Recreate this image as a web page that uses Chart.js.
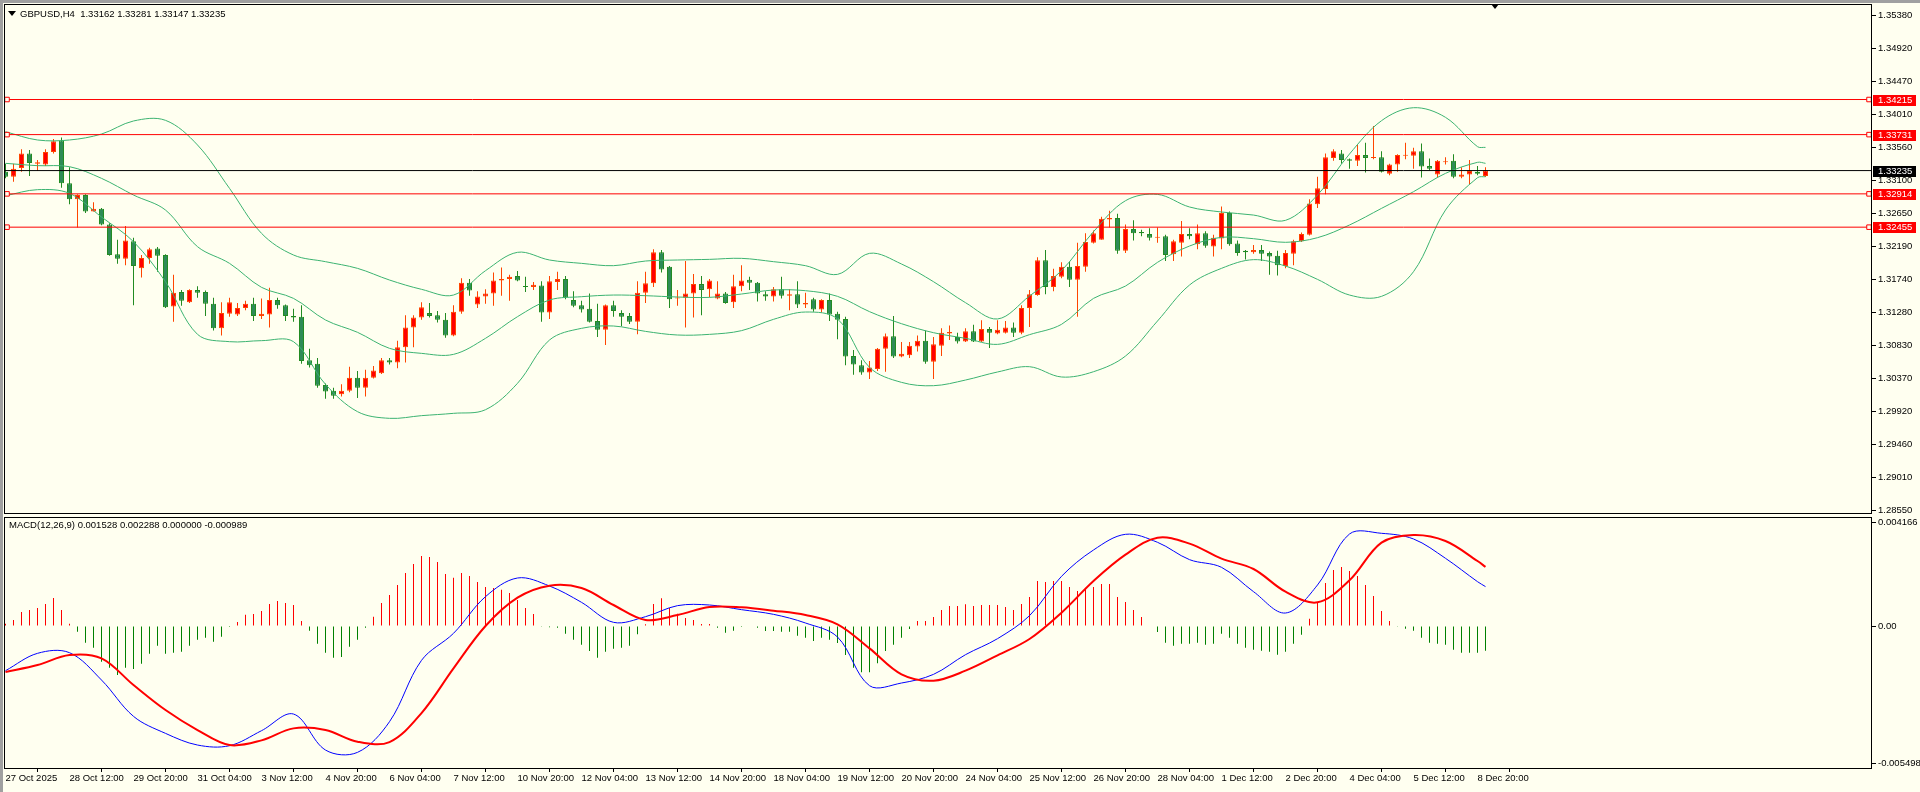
<!DOCTYPE html>
<html>
<head>
<meta charset="utf-8">
<title>GBPUSD,H4</title>
<script src="https://cdn.jsdelivr.net/npm/chart.js@4.4.1/dist/chart.umd.min.js"></script>
<style>
html, body { margin: 0; padding: 0; background: #fffff0; }
body { width: 1920px; height: 792px; position: relative; overflow: hidden; font-family: "Liberation Sans", Arial, sans-serif; }
#pricebox { position: absolute; left: 0; top: 0; width: 1920px; height: 516px; }
#macdbox { position: absolute; left: 0; top: 515px; width: 1920px; height: 277px; }
.caption { position: absolute; font-size: 9.5px; line-height: 11px; color: #000; white-space: pre; }
.tri { position: absolute; width: 0; height: 0; border-left: 4px solid transparent; border-right: 4px solid transparent; border-top: 5px solid #000; }
#edge { position: absolute; left: 0; top: 0; width: 1920px; height: 792px; box-sizing: border-box; border-left: 3px solid #a0a0a0; border-top: 3px solid #a0a0a0; pointer-events: none; }
</style>
</head>
<body>
<div id="pricebox"><canvas id="price"></canvas></div>
<div id="macdbox"><canvas id="macd"></canvas></div>
<div class="tri" style="left:8px; top:11px;"></div>
<div class="caption" style="left:20px; top:8px;">GBPUSD,H4  1.33162 1.33281 1.33147 1.33235</div>
<div class="tri" style="left:1491px; top:4px;"></div>
<div class="caption" style="left:9px; top:519px;">MACD(12,26,9) 0.001528 0.002288 0.000000 -0.000989</div>
<div id="edge"></div>
<script>
// Candles, H4 bars 27 Oct 04:00 .. 9 Dec 00:00
const opens = [
  1.3322,1.3315,1.3327,1.3347,1.3333,1.3332,1.3349,1.3365,1.3306,1.3284,
  1.3290,1.3267,1.3271,1.3249,1.3208,1.3202,1.3226,1.3189,1.3203,1.3216,
  1.3207,1.3136,1.3156,1.3142,1.3159,1.3156,1.3140,1.3106,1.3126,1.3125,
  1.3134,1.3140,1.3123,1.3125,1.3145,1.3138,1.3123,1.3122,1.3062,1.3057,
  1.3028,1.3020,1.3015,1.3020,1.3038,1.3024,1.3038,1.3044,1.3062,1.3059,
  1.3080,1.3107,1.3121,1.3127,1.3124,1.3118,1.3096,1.3129,1.3169,1.3139,
  1.3150,1.3154,1.3172,1.3174,1.3178,1.3164,1.3163,1.3165,1.3128,1.3170,
  1.3174,1.3145,1.3138,1.3133,1.3116,1.3104,1.3138,1.3127,1.3123,1.3115,
  1.3155,1.3168,1.3211,1.3191,1.3147,1.3148,1.3154,1.3167,1.3160,1.3147,
  1.3154,1.3142,1.3164,1.3173,1.3169,1.3153,1.3150,1.3160,1.3151,1.3153,
  1.3139,1.3146,1.3132,1.3145,1.3126,1.3119,1.3068,1.3055,1.3045,1.3050,
  1.3078,1.3095,1.3067,1.3069,1.3081,1.3089,1.3060,1.3082,1.3099,1.3094,
  1.3088,1.3102,1.3088,1.3105,1.3099,1.3100,1.3107,1.3100,1.3134,1.3152,
  1.3200,1.3163,1.3177,1.3191,1.3173,1.3191,1.3224,1.3228,1.3256,1.3258,
  1.3213,1.3243,1.3239,1.3236,1.3231,1.3233,1.3208,1.3224,1.3236,1.3222,
  1.3237,1.3219,1.3230,1.3265,1.3223,1.3213,1.3211,1.3214,1.3210,1.3206,
  1.3192,1.3209,1.3226,1.3235,1.3277,1.3298,1.3341,1.3347,1.3339,1.3337,
  1.3345,1.3341,1.3342,1.3319,1.3332,1.3344,1.3344,1.3350,1.3330,1.3318,
  1.3335,1.3337,1.3315,1.3318,1.3322,1.33162
];
const highs = [
  1.3333,1.3333,1.3353,1.3352,1.3338,1.3353,1.3367,1.3369,1.3328,1.3291,
  1.3291,1.3280,1.3272,1.3251,1.3228,1.3247,1.3231,1.3207,1.3217,1.3218,
  1.3208,1.3180,1.3159,1.3160,1.3164,1.3158,1.3148,1.3142,1.3148,1.3141,
  1.3144,1.3148,1.3147,1.3162,1.3148,1.3139,1.3133,1.3138,1.3078,1.3065,
  1.3030,1.3024,1.3029,1.3053,1.3047,1.3049,1.3054,1.3065,1.3065,1.3089,
  1.3124,1.3124,1.3142,1.3141,1.3130,1.3127,1.3138,1.3175,1.3174,1.3157,
  1.3160,1.3183,1.3190,1.3180,1.3185,1.3177,1.3170,1.3171,1.3178,1.3184,
  1.3178,1.3157,1.3144,1.3154,1.3140,1.3139,1.3144,1.3131,1.3127,1.3171,
  1.3184,1.3215,1.3214,1.3192,1.3159,1.3199,1.3181,1.3178,1.3174,1.3171,
  1.3156,1.3180,1.3193,1.3177,1.3170,1.3157,1.3163,1.3177,1.3160,1.3171,
  1.3155,1.3148,1.3146,1.3154,1.3129,1.3122,1.3076,1.3062,1.3061,1.3079,
  1.3099,1.3123,1.3087,1.3087,1.3096,1.3103,1.3094,1.3106,1.3110,1.3100,
  1.3106,1.3111,1.3117,1.3108,1.3117,1.3116,1.3114,1.3138,1.3159,1.3204,
  1.3214,1.3188,1.3197,1.3198,1.3224,1.3237,1.3241,1.3260,1.3268,1.3264,
  1.3249,1.3255,1.3242,1.3244,1.3245,1.3235,1.3228,1.3254,1.3244,1.3249,
  1.3240,1.3235,1.3274,1.3267,1.3227,1.3214,1.3221,1.3221,1.3212,1.3213,
  1.3214,1.3228,1.3238,1.3284,1.3315,1.3347,1.3353,1.3352,1.3340,1.3359,
  1.3362,1.3385,1.3350,1.3333,1.3346,1.3362,1.3355,1.3361,1.3340,1.3338,
  1.3342,1.3346,1.3328,1.3338,1.3330,1.33281
];
const lows = [
  1.3313,1.3308,1.3322,1.3316,1.3323,1.3330,1.3347,1.3300,1.3277,1.3245,
  1.3265,1.3267,1.3248,1.3206,1.3195,1.3193,1.3138,1.3176,1.3195,1.3184,
  1.3134,1.3115,1.3137,1.3141,1.3148,1.3123,1.3103,1.3096,1.3122,1.3123,
  1.3131,1.3116,1.3119,1.3107,1.3133,1.3116,1.3115,1.3057,1.3052,1.3024,
  1.3009,1.3009,1.3012,1.3018,1.3010,1.3012,1.3037,1.3043,1.3056,1.3051,
  1.3059,1.3080,1.3118,1.3121,1.3114,1.3093,1.3095,1.3126,1.3151,1.3134,
  1.3140,1.3137,1.3151,1.3144,1.3171,1.3156,1.3159,1.3115,1.3119,1.3159,
  1.3146,1.3135,1.3128,1.3114,1.3094,1.3083,1.3122,1.3109,1.3112,1.3098,
  1.3141,1.3163,1.3183,1.3134,1.3137,1.3107,1.3121,1.3124,1.3149,1.3146,
  1.3140,1.3134,1.3157,1.3159,1.3143,1.3144,1.3143,1.3147,1.3131,1.3134,
  1.3134,1.3129,1.3128,1.3116,1.3091,1.3055,1.3042,1.3042,1.3036,1.3047,
  1.3046,1.3065,1.3066,1.3065,1.3074,1.3057,1.3036,1.3068,1.3090,1.3085,
  1.3087,1.3087,1.3087,1.3079,1.3098,1.3099,1.3094,1.3098,1.3108,1.3151,
  1.3153,1.3157,1.3175,1.3163,1.3122,1.3184,1.3223,1.3228,1.3245,1.3209,
  1.3210,1.3227,1.3233,1.3227,1.3224,1.3199,1.3199,1.3205,1.3229,1.3215,
  1.3217,1.3205,1.3215,1.3220,1.3206,1.3201,1.3209,1.3199,1.3180,1.3179,
  1.3189,1.3193,1.3225,1.3234,1.3272,1.3291,1.3337,1.3333,1.3326,1.3330,
  1.3321,1.3339,1.3321,1.3317,1.3322,1.3339,1.3326,1.3314,1.3324,1.3314,
  1.3332,1.3313,1.3313,1.3305,1.3317,1.33147
];
const closes = [
  1.3315,1.3326,1.3347,1.3334,1.3335,1.3349,1.3364,1.3306,1.3284,1.3290,
  1.3267,1.3271,1.3249,1.3207,1.3202,1.3227,1.3192,1.3203,1.3215,1.3206,
  1.3135,1.3155,1.3144,1.3159,1.3155,1.3140,1.3106,1.3127,1.3142,1.3134,
  1.3140,1.3123,1.3126,1.3145,1.3138,1.3123,1.3121,1.3061,1.3055,1.3027,
  1.3019,1.3013,1.3020,1.3038,1.3024,1.3038,1.3048,1.3062,1.3059,1.3080,
  1.3107,1.3121,1.3135,1.3123,1.3118,1.3096,1.3129,1.3169,1.3158,1.3150,
  1.3154,1.3172,1.3174,1.3177,1.3172,1.3163,1.3166,1.3128,1.3171,1.3174,
  1.3149,1.3137,1.3132,1.3115,1.3104,1.3138,1.3130,1.3122,1.3115,1.3155,
  1.3168,1.3211,1.3187,1.3146,1.3148,1.3154,1.3167,1.3159,1.3172,1.3154,
  1.3141,1.3164,1.3172,1.3169,1.3154,1.3150,1.3160,1.3151,1.3153,1.3139,
  1.3141,1.3132,1.3145,1.3125,1.3118,1.3067,1.3056,1.3045,1.3052,1.3078,
  1.3095,1.3067,1.3071,1.3082,1.3089,1.3060,1.3084,1.3100,1.3101,1.3088,
  1.3102,1.3088,1.3105,1.3100,1.3104,1.3107,1.3100,1.3134,1.3153,1.3200,
  1.3163,1.3178,1.3191,1.3173,1.3192,1.3225,1.3237,1.3257,1.3258,1.3213,
  1.3243,1.3237,1.3237,1.3231,1.3232,1.3207,1.3226,1.3236,1.3233,1.3237,
  1.3220,1.3231,1.3265,1.3222,1.3210,1.3211,1.3214,1.3209,1.3205,1.3193,
  1.3210,1.3226,1.3236,1.3278,1.3299,1.3342,1.3350,1.3338,1.3337,1.3345,
  1.3341,1.3342,1.3322,1.3332,1.3345,1.3345,1.3350,1.3329,1.3326,1.3337,
  1.3336,1.3315,1.3318,1.3323,1.3319,1.33235
];

// Bollinger bands and MACD lines, read at these bar numbers
const sampleIdx = [0,4,8,12,16,20,24,28,32,36,40,44,48,52,56,60,64,68,72,76,80,84,88,92,
  96,100,104,108,112,116,120,124,128,132,136,140,144,148,152,156,160,164,168,172,176,180,184,185];
const bbUpper = [1.33771,1.33657,1.33657,1.33739,1.33919,1.33928,1.33588,1.32990,1.32370,1.32071,
  1.31979,1.31887,1.31726,1.31598,1.31519,1.31855,1.32108,1.32002,1.31956,1.31924,
  1.31988,1.32002,1.32011,1.32025,1.31979,1.31924,1.31804,1.32094,1.31947,1.31703,
  1.31414,1.31189,1.31506,1.31855,1.32393,1.32820,1.32907,1.32733,1.32664,1.32622,
  1.32549,1.32898,1.33464,1.33923,1.34102,1.33969,1.33565,1.33555];
const bbMiddle = [1.33335,1.33303,1.33289,1.33128,1.32898,1.32691,1.32186,1.31956,1.31625,1.31473,
  1.31175,1.31005,1.30784,1.30715,1.30701,1.30922,1.31221,1.31451,1.31496,1.31519,
  1.31510,1.31492,1.31487,1.31533,1.31588,1.31579,1.31501,1.31290,1.31124,1.31000,
  1.30922,1.30839,1.30973,1.31115,1.31473,1.31643,1.31970,1.32195,1.32315,1.32296,
  1.32246,1.32310,1.32485,1.32714,1.32944,1.33197,1.33349,1.33335];
const bbLower = [1.32889,1.32972,1.32921,1.32595,1.32255,1.31703,1.30977,1.30876,1.30890,1.30876,
  1.30288,1.29911,1.29819,1.29856,1.29888,1.29938,1.30302,1.30899,1.31060,1.31092,
  1.31018,1.30968,1.30977,1.31028,1.31184,1.31285,1.31189,1.30522,1.30315,1.30269,
  1.30347,1.30458,1.30531,1.30389,1.30462,1.30678,1.31161,1.31657,1.31887,1.32007,
  1.31919,1.31735,1.31519,1.31501,1.31841,1.32691,1.33137,1.33151];
const macdMain = [-0.001792,-0.001096,-0.001070,-0.002166,-0.003623,-0.004305,-0.004773,-0.004800,-0.004198,-0.003530,
  -0.004974,-0.005067,-0.003837,-0.001377,-0.000294,0.001177,0.001925,0.001604,0.000949,0.000147,
  0.000374,0.000816,0.000842,0.000655,0.000468,0.000120,-0.000441,-0.002393,-0.002286,-0.001939,
  -0.001150,-0.000508,0.000414,0.001992,0.003048,0.003677,0.003356,0.002661,0.002353,0.001377,
  0.000521,0.001645,0.003690,0.003717,0.003490,0.002714,0.001778,0.001580];
const macdSignal = [-0.001845,-0.001564,-0.001163,-0.001297,-0.002366,-0.003369,-0.004171,-0.004773,-0.004586,-0.004105,
  -0.004171,-0.004639,-0.004653,-0.003490,-0.001698,0.000000,0.001136,0.001618,0.001524,0.000842,
  0.000241,0.000441,0.000762,0.000749,0.000615,0.000441,0.000067,-0.000896,-0.001939,-0.002193,
  -0.001792,-0.001177,-0.000521,0.000535,0.001805,0.002861,0.003543,0.003302,0.002701,0.002286,
  0.001377,0.000949,0.001832,0.003343,0.003650,0.003409,0.002607,0.002370];

// MACD histogram, one value per bar
const histogram = [
  94e-6,241e-6,562e-6,642e-6,722e-6,882e-6,1123e-6,642e-6,94e-6,-227e-6,
  -669e-6,-869e-6,-1431e-6,-1671e-6,-1965e-6,-1671e-6,-1725e-6,-1511e-6,-1110e-6,-789e-6,
  -1110e-6,-1070e-6,-1029e-6,-789e-6,-548e-6,-468e-6,-628e-6,-428e-6,-40e-6,160e-6,
  455e-6,481e-6,602e-6,882e-6,1003e-6,923e-6,842e-6,201e-6,-187e-6,-709e-6,
  -1070e-6,-1270e-6,-1243e-6,-829e-6,-548e-6,-67e-6,374e-6,923e-6,1243e-6,1645e-6,
  2126e-6,2487e-6,2808e-6,2768e-6,2567e-6,2086e-6,1939e-6,2126e-6,2006e-6,1765e-6,
  1564e-6,1524e-6,1457e-6,1324e-6,1043e-6,722e-6,481e-6,-27e-6,-53e-6,-67e-6,
  -308e-6,-548e-6,-749e-6,-1003e-6,-1270e-6,-1029e-6,-909e-6,-869e-6,-789e-6,-334e-6,
  67e-6,882e-6,1110e-6,722e-6,495e-6,321e-6,241e-6,80e-6,80e-6,-67e-6,
  -267e-6,-187e-6,-40e-6,0,-67e-6,-201e-6,-201e-6,-227e-6,-227e-6,-388e-6,
  -468e-6,-602e-6,-468e-6,-548e-6,-682e-6,-1163e-6,-1671e-6,-1858e-6,-1858e-6,-1497e-6,
  -1003e-6,-749e-6,-468e-6,-120e-6,201e-6,201e-6,361e-6,642e-6,802e-6,802e-6,
  869e-6,802e-6,842e-6,842e-6,842e-6,762e-6,642e-6,882e-6,1163e-6,1805e-6,
  1765e-6,1805e-6,1805e-6,1564e-6,1404e-6,1484e-6,1564e-6,1685e-6,1685e-6,1163e-6,
  963e-6,642e-6,361e-6,0,-241e-6,-669e-6,-789e-6,-709e-6,-709e-6,-669e-6,
  -749e-6,-709e-6,-308e-6,-468e-6,-709e-6,-869e-6,-949e-6,-989e-6,-1029e-6,-1150e-6,
  -1029e-6,-709e-6,-348e-6,294e-6,936e-6,1725e-6,2246e-6,2366e-6,2206e-6,2006e-6,
  1645e-6,1203e-6,602e-6,201e-6,-10e-6,-107e-6,-187e-6,-468e-6,-669e-6,-709e-6,
  -749e-6,-949e-6,-1070e-6,-1070e-6,-1070e-6,-989e-6
];

// Horizontal lines and axis labels
const redLevels = [1.34215, 1.33731, 1.32914, 1.32455];
const bidPrice = 1.33235;
const priceTicks = [1.35380,1.34920,1.34470,1.34010,1.33560,1.33100,1.32650,1.32190,
  1.31740,1.31280,1.30830,1.30370,1.29920,1.29460,1.29010,1.28550];
const macdTicks = [0.004166, 0, -0.005498];
const macdTickLabels = ['0.004166', '0.00', '-0.005498'];
const timeIdx = [0,8,16,24,32,40,48,56,64,72,80,88,96,104,112,120,128,136,144,152,160,168,176,184];
const timeLabels = ['27 Oct 2025','28 Oct 12:00','29 Oct 20:00','31 Oct 04:00','3 Nov 12:00','4 Nov 20:00',
  '6 Nov 04:00','7 Nov 12:00','10 Nov 20:00','12 Nov 04:00','13 Nov 12:00','14 Nov 20:00',
  '18 Nov 04:00','19 Nov 12:00','20 Nov 20:00','24 Nov 04:00','25 Nov 12:00','26 Nov 20:00',
  '28 Nov 04:00','1 Dec 12:00','2 Dec 20:00','4 Dec 04:00','5 Dec 12:00','8 Dec 20:00'];

Chart.defaults.font.family = '"Liberation Sans", Arial, sans-serif';
Chart.defaults.font.size = 9.5;
Chart.defaults.color = '#000';

const FONT = '9.5px "Liberation Sans", Arial, sans-serif';
const X_MIN = -0.1875, X_MAX = 233.3125;   // 8 px per bar

const bull = opens.map((o, i) => closes[i] >= o);
const bodyFill = bull.map(b => b ? '#ff0000' : '#2e8b57');
const edgeColor = bull.map(b => b ? '#ff4500' : '#228b22');

// Black frame round each panel
const frame = {
    id: 'frame',
    afterDraw(chart) {
        const a = chart.chartArea, ctx = chart.ctx;
        ctx.save();
        ctx.strokeStyle = '#000';
        ctx.lineWidth = 1;
        ctx.strokeRect(a.left + 0.5, a.top + 0.5, a.right - a.left - 1, a.bottom - a.top - 1);
        ctx.restore();
    }
};

// Price tags for the lines on the right axis
const levelTags = {
    id: 'levelTags',
    afterDraw(chart) {
        const ctx = chart.ctx, y = chart.scales.y, right = chart.chartArea.right;
        const tags = redLevels.map(v => [v, '#ff0000']).concat([[bidPrice, '#000000']]);
        ctx.save();
        ctx.font = FONT;
        ctx.textBaseline = 'middle';
        ctx.textAlign = 'left';
        tags.forEach(([v, c]) => {
            const py = Math.round(y.getPixelForValue(v));
            ctx.fillStyle = c;
            ctx.fillRect(right + 1, py - 5, 43, 11);
            ctx.fillStyle = '#ffffff';
            ctx.fillText(v.toFixed(5), right + 6, py + 0.5);
        });
        ctx.restore();
    }
};

function levelLine(v, color, marks) {
    return {
        type: 'line',
        order: 0,
        data: [{x: X_MIN, y: v}, {x: 0.19, y: v}, {x: 232.94, y: v}, {x: X_MAX, y: v}],
        borderColor: color,
        borderWidth: 1,
        pointRadius: marks ? [0, 3.2, 3.2, 0] : 0,
        pointStyle: 'rect',
        pointBackgroundColor: '#fffff0',
        pointBorderColor: color,
        pointBorderWidth: 1
    };
}

function sampledLine(values, color, width, order) {
    return {
        type: 'line',
        order: order,
        data: sampleIdx.map((x, k) => ({x: x, y: values[k]})),
        borderColor: color,
        borderWidth: width,
        pointRadius: 0,
        tension: 0.35
    };
}

const rightAxis = (min, max) => ({
    position: 'right',
    min: min,
    max: max,
    grid: { drawOnChartArea: false, drawTicks: true, tickLength: 4, color: '#000' },
    border: { display: false },
    ticks: { padding: 2, color: '#000' },
    afterFit: (s) => { s.width = 48; s.paddingTop = 0; s.paddingBottom = 0; }
});

// Price panel
const priceY = rightAxis(1.28500, 1.35532);
priceY.afterBuildTicks = (s) => { s.ticks = priceTicks.map(v => ({value: v})); };
priceY.ticks.callback = (v) => Number(v).toFixed(5);

const priceChart = new Chart(document.getElementById('price'), {
    type: 'bar',
    data: {
        datasets: [
            ...redLevels.map(v => levelLine(v, '#ff0000', true)),
            levelLine(bidPrice, '#000000', false),
            sampledLine(bbUpper, '#3cb371', 1, 1),
            sampledLine(bbMiddle, '#3cb371', 1, 1),
            sampledLine(bbLower, '#3cb371', 1, 1),
            {
                type: 'bar',
                order: 2,
                data: opens.map((o, i) => ({x: i, y: [o, closes[i]]})),
                backgroundColor: bodyFill,
                borderColor: edgeColor,
                borderWidth: 1,
                borderSkipped: false,
                barThickness: 5,
                minBarLength: 1,
                grouped: false,
                inflateAmount: 0
            },
            {
                type: 'bar',
                order: 3,
                data: lows.map((l, i) => ({x: i, y: [l, highs[i]]})),
                backgroundColor: edgeColor,
                borderWidth: 0,
                barThickness: 1,
                grouped: false,
                inflateAmount: 0
            }
        ]
    },
    options: {
        responsive: true,
        maintainAspectRatio: false,
        animation: false,
        layout: { padding: { left: 4, top: 4, right: 0, bottom: 2 } },
        plugins: { legend: { display: false }, tooltip: { enabled: false } },
        scales: {
            x: { type: 'linear', min: X_MIN, max: X_MAX, offset: false, display: false },
            y: priceY
        }
    },
    plugins: [frame, levelTags]
});

// MACD panel
const macdY = rightAxis(-0.005734, 0.004371);
macdY.afterBuildTicks = (s) => { s.ticks = macdTicks.map(v => ({value: v})); };
macdY.ticks.callback = (v, i) => macdTickLabels[i];

const macdChart = new Chart(document.getElementById('macd'), {
    type: 'bar',
    data: {
        datasets: [
            sampledLine(macdSignal, '#ff0000', 2, 0),
            sampledLine(macdMain, '#0000ff', 1, 1),
            {
                type: 'bar',
                order: 2,
                data: histogram.map((v, i) => ({x: i, y: v})),
                backgroundColor: histogram.map(v => v >= 0 ? '#ff0000' : '#008000'),
                borderWidth: 0,
                barThickness: 1,
                grouped: false,
                inflateAmount: 0
            }
        ]
    },
    options: {
        responsive: true,
        maintainAspectRatio: false,
        animation: false,
        layout: { padding: { left: 4, top: 2, right: 0, bottom: 0 } },
        plugins: { legend: { display: false }, tooltip: { enabled: false } },
        scales: {
            x: {
                type: 'linear',
                min: X_MIN,
                max: X_MAX,
                offset: false,
                position: 'bottom',
                grid: { drawOnChartArea: false, drawTicks: true, tickLength: 3, color: '#000' },
                border: { display: false },
                ticks: {
                    align: 'start',
                    maxRotation: 0,
                    autoSkip: false,
                    padding: 1,
                    color: '#000',
                    callback: (v, i) => timeLabels[i]
                },
                afterBuildTicks: (s) => { s.ticks = timeIdx.map(v => ({value: v})); },
                afterFit: (s) => { s.height = 23; s.paddingLeft = 0; s.paddingRight = 0; }
            },
            y: macdY
        }
    },
    plugins: [frame]
});
</script>
</body>
</html>
